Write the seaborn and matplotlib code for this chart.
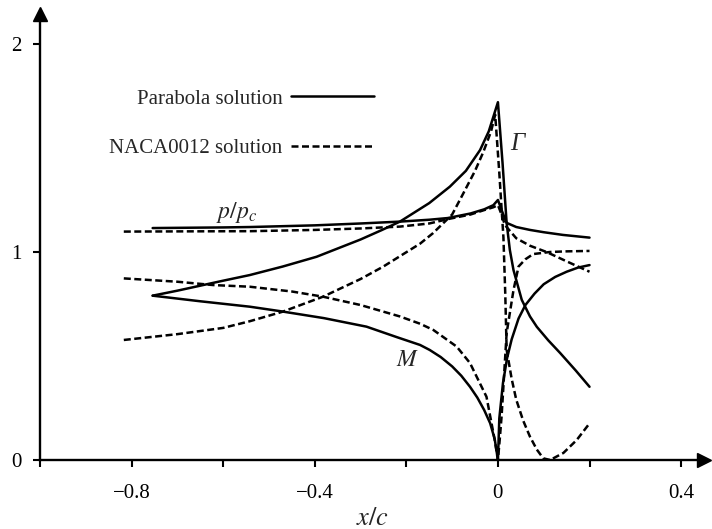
import numpy as np
import pandas as pd
import matplotlib
matplotlib.use("Agg")
import matplotlib.pyplot as plt
import seaborn as sns

# values (x/c, value)
# Parabola solution (solid)
para_p_x = [-0.754, -0.6, -0.54, -0.4, -0.3, -0.214, -0.15, -0.11, -0.06, -0.03, -0.01,
            0.0, 0.01, 0.019, 0.04, 0.07, 0.1, 0.142, 0.2]
para_p_y = [1.115, 1.118, 1.12, 1.128, 1.137, 1.146, 1.155, 1.163, 1.185, 1.205, 1.225,
            1.25, 1.19, 1.14, 1.12, 1.106, 1.095, 1.082, 1.069]

para_g_x = [-0.754, -0.7, -0.6, -0.542, -0.47, -0.396, -0.3, -0.254, -0.214, -0.15, -0.105,
            -0.07, -0.039, -0.02, 0.0, 0.01, 0.019, 0.026, 0.034, 0.052, 0.07, 0.085, 0.11,
            0.136, 0.17, 0.2]
para_g_y = [0.79, 0.814, 0.862, 0.889, 0.93, 0.977, 1.06, 1.105, 1.146, 1.235, 1.314,
            1.39, 1.49, 1.58, 1.72, 1.43, 1.14, 1.01, 0.913, 0.77, 0.69, 0.64, 0.575,
            0.514, 0.43, 0.352]

para_m_x = [-0.754, -0.65, -0.542, -0.477, -0.38, -0.287, -0.22, -0.17, -0.149, -0.125,
            -0.1, -0.08, -0.061, -0.045, -0.03, -0.017, -0.007, 0.0, 0.003, 0.011, 0.02,
            0.03, 0.045, 0.06, 0.08, 0.1, 0.125, 0.15, 0.175, 0.2]
para_m_y = [0.79, 0.763, 0.737, 0.716, 0.682, 0.641, 0.59, 0.553, 0.529, 0.495,
            0.45, 0.405, 0.352, 0.3, 0.24, 0.177, 0.1, 0.0, 0.2, 0.37, 0.49,
            0.58, 0.68, 0.745, 0.8, 0.845, 0.88, 0.905, 0.925, 0.937]

# NACA0012 solution (dashed)
naca_p_x = [-0.817, -0.7, -0.54, -0.4, -0.3, -0.214, -0.15, -0.105, -0.06, -0.032, -0.01,
            0.0, 0.008, 0.015, 0.04, 0.07, 0.106, 0.15, 0.2]
naca_p_y = [1.098, 1.099, 1.1, 1.106, 1.113, 1.122, 1.137, 1.16, 1.18, 1.2, 1.215,
            1.225, 1.18, 1.13, 1.066, 1.03, 1.0, 0.955, 0.905]

naca_g_x = [-0.817, -0.7, -0.6, -0.542, -0.47, -0.382, -0.3, -0.251, -0.17, -0.142, -0.1,
            -0.076, -0.05, -0.032, -0.015, -0.006, 0.003, 0.012, 0.016, 0.019, 0.03, 0.04,
            0.055, 0.07, 0.085, 0.099, 0.114, 0.143, 0.172, 0.2]
naca_g_y = [0.577, 0.605, 0.635, 0.667, 0.713, 0.785, 0.87, 0.929, 1.04, 1.09, 1.18,
            1.28, 1.39, 1.48, 1.58, 1.66, 1.38, 1.07, 0.8, 0.53, 0.39, 0.29,
            0.19, 0.112, 0.05, 0.008, 0.0, 0.034, 0.096, 0.176]

naca_m_x = [-0.817, -0.7, -0.622, -0.542, -0.45, -0.382, -0.3, -0.214, -0.17, -0.141, -0.09,
            -0.061, -0.025, -0.007, 0.0, 0.004, 0.008, 0.019, 0.034, 0.045, 0.06, 0.077,
            0.114, 0.15, 0.2]
naca_m_y = [0.873, 0.857, 0.841, 0.833, 0.81, 0.785, 0.745, 0.69, 0.655, 0.625, 0.545,
            0.466, 0.304, 0.096, 0.0, 0.1, 0.21, 0.61, 0.817, 0.93, 0.965, 0.99,
            1.0, 1.003, 1.005]

x_ticks = [-1.0, -0.8, -0.6, -0.4, -0.2, 0.0, 0.2, 0.4]
x_tick_labels = ["", "\u22120.8", "", "\u22120.4", "", "0", "", "0.4"]
y_ticks = [0, 1, 2]
y_tick_labels = ["0", "1", "2"]

# %%
sns.set_theme(style="white")
plt.rcParams["font.family"] = ["Liberation Serif", "DejaVu Serif"]
plt.rcParams["mathtext.fontset"] = "stix"

fig = plt.figure(figsize=(7.12, 5.29), dpi=100)
ax = fig.add_axes([40 / 712, 69 / 529, 664 / 712, 446 / 529])

solid = dict(color="black", linewidth=1.8, sort=False, estimator=None, ax=ax)
dashed = dict(color="black", linewidth=1.8, sort=False, estimator=None, ax=ax,
              linestyle=(0, (2.8, 1.4)))

sns.lineplot(x=para_p_x, y=para_p_y, label="Parabola solution", **solid)
sns.lineplot(x=para_g_x, y=para_g_y, **solid)
sns.lineplot(x=para_m_x, y=para_m_y, **solid)
sns.lineplot(x=naca_p_x, y=naca_p_y, label="NACA0012 solution", **dashed)
sns.lineplot(x=naca_g_x, y=naca_g_y, **dashed)
sns.lineplot(x=naca_m_x, y=naca_m_y, **dashed)

ax.set_xlim(-1.0, 0.45)
ax.set_ylim(0, 2.144)
ax.set_xticks(x_ticks)
ax.set_xticklabels(x_tick_labels)
ax.set_yticks(y_ticks)
ax.set_yticklabels(y_tick_labels)
ax.tick_params(axis="both", direction="out", length=5, width=1.5, labelsize=15,
               colors="black", bottom=True, left=True)
ax.tick_params(axis="x", pad=12)
ax.tick_params(axis="y", pad=8)
for side in ["top", "right"]:
    ax.spines[side].set_visible(False)
for side in ["left", "bottom"]:
    ax.spines[side].set_linewidth(1.7)
    ax.spines[side].set_color("black")

# arrow heads on the axes
ax.plot([0], [1], marker="^", markersize=10, color="black",
        transform=ax.transAxes, clip_on=False)
ax.plot([1], [0], marker=">", markersize=10, color="black",
        transform=ax.transAxes, clip_on=False)

ax.set_xlabel("$x/c$", fontsize=19, labelpad=4)
ax.set_ylabel("")

ax.text(-0.571, 1.19, "$p/p_c$", fontsize=17, ha="center", va="center")
ax.text(0.042, 1.52, "\u0393", fontsize=18, style="italic", ha="center", va="center")
ax.text(-0.197, 0.48, "$M$", fontsize=17, ha="center", va="center")

ax.legend(loc="upper right", bbox_to_anchor=(374 / 712, 1 - 89 / 529),
          bbox_transform=fig.transFigure, frameon=False, markerfirst=False,
          fontsize=15, handlelength=4.0, handletextpad=0.4, labelspacing=1.45,
          borderpad=0, borderaxespad=0)

fig.savefig("out.png", dpi=100, facecolor="white")
